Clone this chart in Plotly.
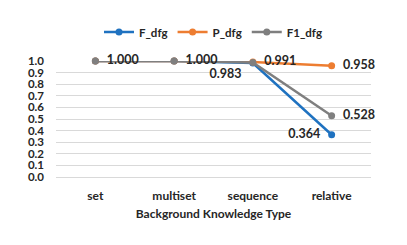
import plotly.graph_objects as go

categories = ["set", "multiset", "sequence", "relative"]
f_dfg = [1.000, 1.000, 0.983, 0.364]
p_dfg = [1.000, 1.000, 0.991, 0.958]
f1_dfg = [1.000, 1.000, 0.987, 0.528]
y_ticks = [0.0, 0.1, 0.2, 0.3, 0.4, 0.5, 0.6, 0.7, 0.8, 0.9, 1.0]

f_text = ["", "", "0.983", "0.364"]
p_text = ["", "", "0.991", "0.958"]
f1_text = ["1.000", "1.000", "", "0.528"]

FONT = "Lato, 'Liberation Sans', Arial"
tf = dict(family=FONT, size=12.5, color="#262626", weight="bold")
tick_font = dict(family=FONT, size=11.5, color="#262626", weight="bold")
NB = "\u00a0\u00a0"

fig = go.Figure()
fig.add_trace(go.Scatter(x=categories, y=f_dfg, name="F_dfg", mode="lines+markers+text",
                         text=f_text, texttemplate="%{text}" + NB,
                         textposition=["middle left", "middle left", "bottom left", "middle left"],
                         textfont=tf, cliponaxis=False, hoverinfo="skip",
                         line=dict(color="#1f72c0", width=2.5), marker=dict(size=7, color="#1f72c0")))
fig.add_trace(go.Scatter(x=categories, y=p_dfg, name="P_dfg", mode="lines+markers+text",
                         text=p_text, texttemplate=NB + "%{text}",
                         textposition="middle right", textfont=tf, cliponaxis=False, hoverinfo="skip",
                         line=dict(color="#ed7d31", width=2.5), marker=dict(size=7, color="#ed7d31")))
fig.add_trace(go.Scatter(x=categories, y=f1_dfg, name="F1_dfg", mode="lines+markers+text",
                         text=f1_text, texttemplate=NB + "%{text}",
                         textposition="middle right", textfont=tf, cliponaxis=False, hoverinfo="skip",
                         line=dict(color="#7f7f7f", width=2.5), marker=dict(size=7, color="#7f7f7f")))

fig.update_layout(
    width=407, height=245,
    margin=dict(l=56, r=36, t=61, b=68),
    plot_bgcolor="white", paper_bgcolor="white",
    font=dict(family=FONT, size=12, color="#262626"),
    showlegend=True,
    legend=dict(orientation="h", x=0.5, xanchor="center", y=1.25, yanchor="middle",
                font=dict(family=FONT, size=11.5, color="#262626", weight="bold"),
                tracegroupgap=0),
    xaxis=dict(type="category", range=[-0.5, 3.5], showgrid=False, showline=False, automargin=False,
               ticks="", tickfont=dict(family=FONT, size=12, color="#262626", weight="bold"),
               ticklabelstandoff=10,
               title=dict(text="Background Knowledge Type", standoff=7,
                          font=dict(family=FONT, size=12, color="#262626", weight="bold"))),
    yaxis=dict(range=[0, 1.0], tickvals=y_ticks, ticktext=[f"{v:.1f}" for v in y_ticks],
               automargin=False,
               showgrid=True, gridcolor="#d9d9d9", gridwidth=1, zeroline=True, zerolinecolor="#d9d9d9",
               zerolinewidth=1, showline=False, ticks="", ticklabelstandoff=11,
               tickfont=tick_font),
)
fig.write_html("out.html", config={"displayModeBar": False},
               post_script="document.body.style.margin='0';document.body.style.padding='0';")
